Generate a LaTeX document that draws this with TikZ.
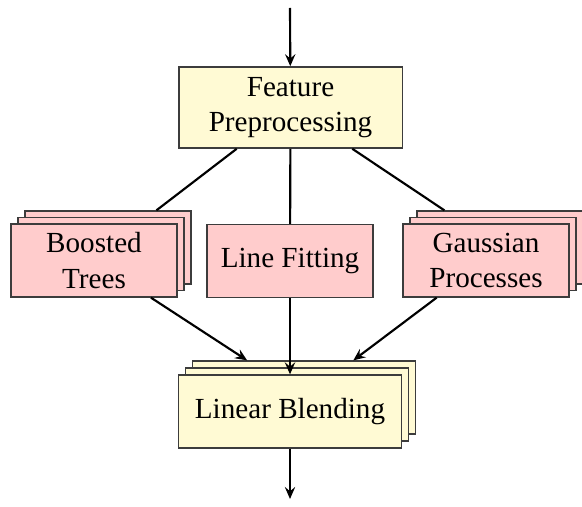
\documentclass[tikz,border=0pt]{standalone}
\usepackage{fontspec}
\setmainfont{Liberation Serif}
\usetikzlibrary{arrows.meta}
\definecolor{boxyellow}{RGB}{255,250,212}
\definecolor{boxpink}{RGB}{255,204,204}
\definecolor{boxedge}{RGB}{60,60,60}
\tikzset{
  procbox/.style={draw=boxedge, line width=0.5pt, minimum width=58.1pt,
    minimum height=25.5pt, inner sep=0pt, align=center,
    font=\fontsize{10.2}{12.3}\selectfont},
  yellowbox/.style={procbox, fill=boxyellow},
  pinkbox/.style={procbox, fill=boxpink},
  wide/.style={minimum width=78.2pt},
  conn/.style={line width=0.75pt, black},
  arr/.style={conn, -{Stealth[length=4.2pt, width=3.6pt, inset=1.5pt]}},
}
\begin{document}
\begin{tikzpicture}[x=0.35pt, y=-0.35pt]
\useasboundingbox (0,0) rectangle (582,506);

% input and output ends
\coordinate (in) at (290,8);
\coordinate (out) at (290,499);

% preprocessing stage
\node[yellowbox, wide, minimum height=28.4pt] (feat) at (290.5,107.5) {Feature\\Preprocessing};

% boosted trees (stack of three)
\node[pinkbox] (boostC) at (108,247.5) {};
\node[pinkbox] (boostB) at (101,254) {};
\node[pinkbox] (boost) at (94,260.5) {Boosted\\Trees};

% line fitting
\node[pinkbox] (fit) at (290,261) {Line Fitting};

% gaussian processes (stack of three)
\node[pinkbox] (gaussC) at (500,247.5) {};
\node[pinkbox] (gaussB) at (493,254) {};
\node[pinkbox] (gauss) at (486,260.5) {Gaussian\\Processes};

% blending stage (stack of three)
\node[yellowbox, wide] (blendC) at (304,397.5) {};
\node[yellowbox, wide] (blendB) at (297,404.5) {};
\node[yellowbox, wide] (blend) at (290,411.5) {Linear Blending};

% connectors
\draw[arr] (in) -- (feat);
\draw[conn] (feat) -- (boostC);
\draw[conn] (feat) -- (fit);
\draw[conn] (feat) -- (gaussC);
\draw[arr] (boost) -- (blendC);
\draw[arr] (fit) -- (blend);
\draw[arr] (gauss) -- (blendC);
\draw[arr] (blend) -- (out);
\end{tikzpicture}
\end{document}
